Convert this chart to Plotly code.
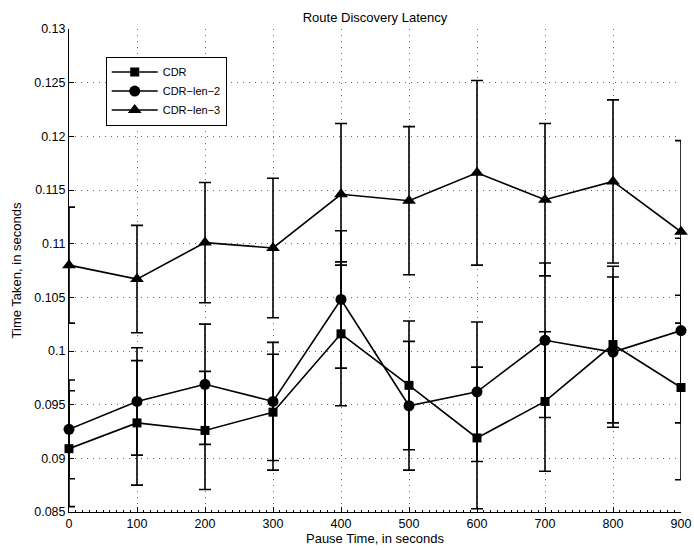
import plotly.graph_objects as go

pause_time = [0, 100, 200, 300, 400, 500, 600, 700, 800, 900]

cdr = [0.0909, 0.0933, 0.0926, 0.0943, 0.1016, 0.0968, 0.0919, 0.0953, 0.1006, 0.0966]
cdr_err = [0.0054, 0.0058, 0.0055, 0.0054, 0.0067, 0.0060, 0.0066, 0.0065, 0.0073, 0.0086]

len2 = [0.0927, 0.0953, 0.0969, 0.0953, 0.1048, 0.0949, 0.0962, 0.1010, 0.0999, 0.1019]
len2_err = [0.0046, 0.0050, 0.0056, 0.0055, 0.0064, 0.0060, 0.0065, 0.0072, 0.0070, 0.0086]

len3 = [0.1080, 0.1067, 0.1101, 0.1096, 0.1146, 0.1140, 0.1166, 0.1141, 0.1158, 0.1111]
len3_err = [0.0054, 0.0050, 0.0056, 0.0065, 0.0066, 0.0069, 0.0086, 0.0071, 0.0076, 0.0085]

series_names = ["CDR", "CDR\u2212len\u22122", "CDR\u2212len\u22123"]

y_ticks = [0.085, 0.09, 0.095, 0.1, 0.105, 0.11, 0.115, 0.12, 0.125, 0.13]
y_tick_text = ["0.085", "0.09", "0.095", "0.1", "0.105", "0.11", "0.115", "0.12", "0.125", "0.13"]
x_ticks = [0, 100, 200, 300, 400, 500, 600, 700, 800, 900]

X_RANGE = [0, 900]
Y_RANGE = [0.085, 0.13]

FONT = "Liberation Sans, Arial, Helvetica, sans-serif"

fig = go.Figure()

specs = [
    (cdr, cdr_err, series_names[0], "square", 9),
    (len2, len2_err, series_names[1], "circle", 11),
    (len3, len3_err, series_names[2], "triangle-up", 12),
]
# error bars on an overlaid, clipped subplot (caps cut at the axes like the original)
for vals, errs, name, sym, size in specs:
    fig.add_trace(go.Scatter(
        x=pause_time, y=vals, name=name, mode="markers", showlegend=False,
        marker=dict(size=1, color="rgba(0,0,0,0)"),
        error_y=dict(type="data", array=errs, visible=True,
                     color="black", thickness=1.6, width=6),
        cliponaxis=True, xaxis="x2", yaxis="y2", hoverinfo="skip",
    ))
# lines and markers (markers not clipped at the axes)
for vals, errs, name, sym, size in specs:
    fig.add_trace(go.Scatter(
        x=pause_time, y=vals, name=name, mode="lines+markers",
        line=dict(color="black", width=1.6),
        marker=dict(symbol=sym, size=size, color="black"),
        cliponaxis=False,
    ))

fig.update_layout(
    width=694, height=550,
    margin=dict(l=69, r=13, t=29, b=38),
    paper_bgcolor="white", plot_bgcolor="white",
    font=dict(family=FONT, size=12, color="black"),
    title=dict(text="Route Discovery Latency", x=0.5, xref="paper",
               y=1 - 17 / 550, yref="container", yanchor="middle",
               font=dict(size=13)),
    showlegend=True,
    legend=dict(x=0.06, y=0.943, xanchor="left", yanchor="top",
                bordercolor="black", borderwidth=1, bgcolor="white",
                font=dict(size=11), itemwidth=46, tracegroupgap=0),
    xaxis2=dict(overlaying="x", range=X_RANGE, visible=False, automargin=False),
    yaxis2=dict(overlaying="y", range=Y_RANGE, visible=False, automargin=False),
)

fig.update_layout(yaxis=dict(
    range=Y_RANGE, tickvals=y_ticks, ticktext=y_tick_text,
    ticks="inside", ticklen=5, tickcolor="black", automargin=False,
    showline=True, linecolor="black", linewidth=1, mirror=False, zeroline=False,
    showgrid=True, gridcolor="#666666", griddash="1px,5px", gridwidth=1,
    title=dict(text="Time Taken, in seconds", standoff=9, font=dict(size=13)),
    tickfont=dict(size=12.5),
))
fig.update_layout(xaxis=dict(
    range=X_RANGE, tickvals=x_ticks, ticks="inside", ticklen=5,
    tickcolor="black", showline=True, linecolor="black", linewidth=1,
    mirror=False, zeroline=False, automargin=False,
    showgrid=True, gridcolor="#666666", griddash="1px,5px", gridwidth=1,
    minor=dict(ticks="inside", ticklen=2, dtick=10, tickcolor="black", showgrid=False),
    title=dict(text="Pause Time, in seconds", standoff=2, font=dict(size=13)),
    tickfont=dict(size=12.5),
))

fig.write_html("out.html")
